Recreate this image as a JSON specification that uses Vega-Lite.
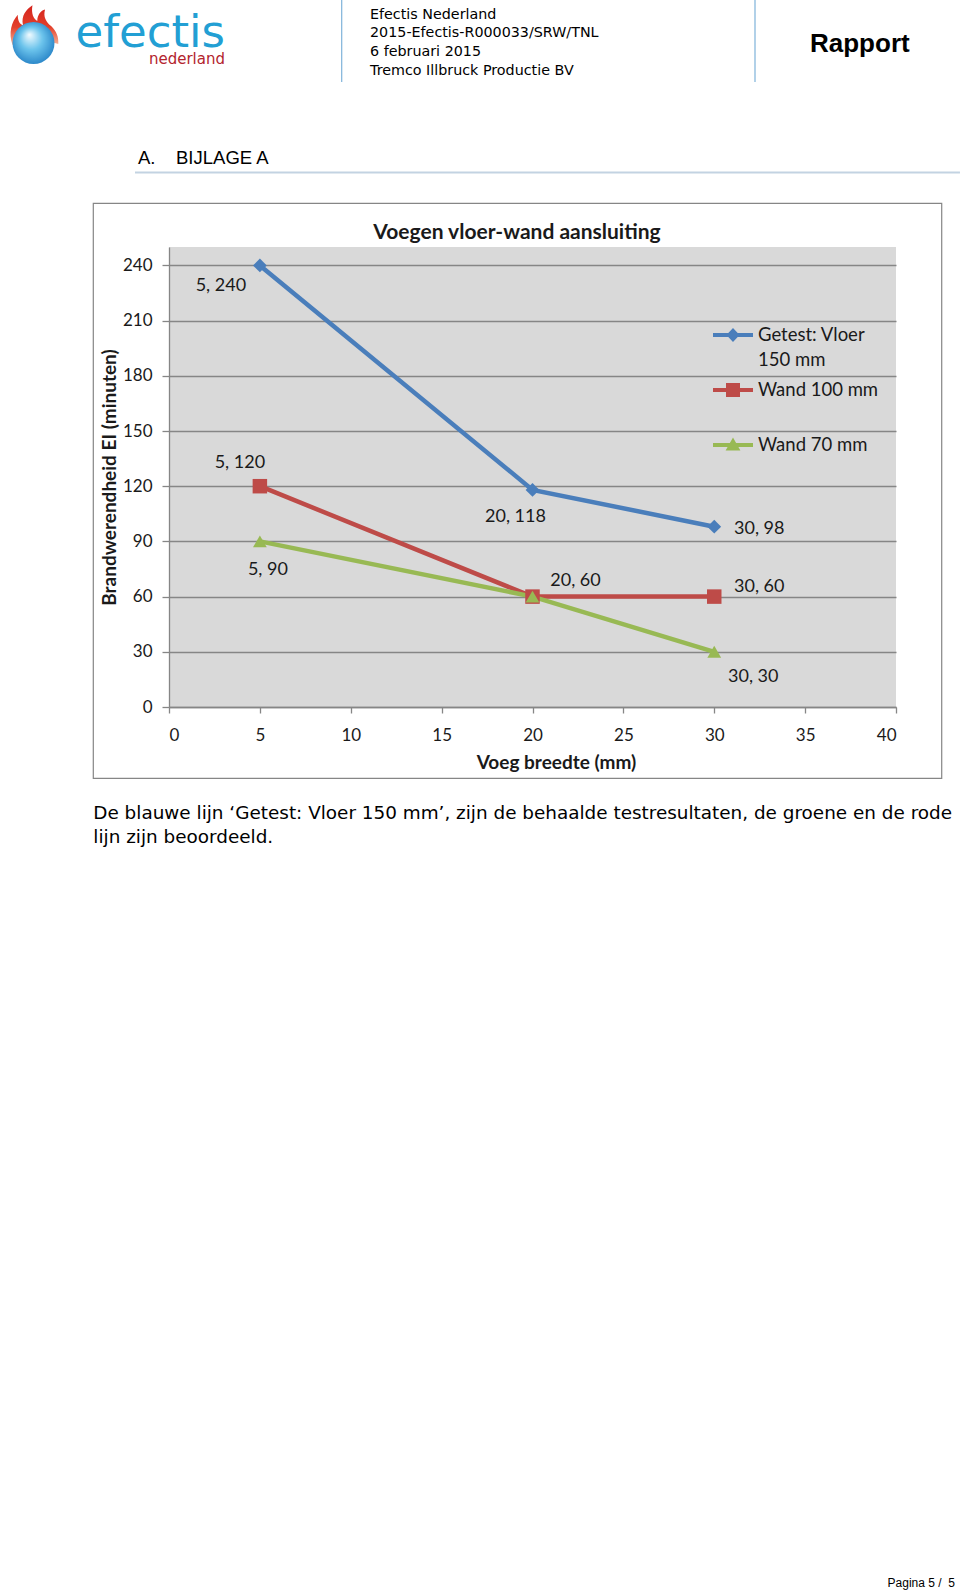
{
  "$schema": "https://vega.github.io/schema/vega-lite/v6.json",
  "width": 727,
  "height": 460,
  "autosize": {"type": "none"},
  "padding": {"left": 169, "top": 247, "right": 64, "bottom": 885},
  "background": "white",
  "config": {
    "view": {"fill": "#d9d9d9", "stroke": null},
    "axis": {
      "domainColor": "#868686", "tickColor": "#868686", "gridColor": "#868686",
      "domainWidth": 1.3, "tickWidth": 1.3, "gridWidth": 1.3,
      "labelFont": "Lato", "labelFontSize": 17, "labelColor": "#1a1a1a",
      "titleFont": "Lato", "titleFontSize": 19, "titleFontWeight": "bold", "titleColor": "#1a1a1a"
    },
    "text": {"font": "Lato"}
  },
  "data": {
    "values": [
      {"reeks": "Getest: Vloer 150 mm", "breedte": 5, "ei": 240, "label": "5, 240"},
      {"reeks": "Getest: Vloer 150 mm", "breedte": 20, "ei": 118, "label": "20, 118"},
      {"reeks": "Getest: Vloer 150 mm", "breedte": 30, "ei": 98, "label": "30, 98"},
      {"reeks": "Wand 100 mm", "breedte": 5, "ei": 120, "label": "5, 120"},
      {"reeks": "Wand 100 mm", "breedte": 20, "ei": 60, "label": "20, 60"},
      {"reeks": "Wand 100 mm", "breedte": 30, "ei": 60, "label": "30, 60"},
      {"reeks": "Wand 70 mm", "breedte": 5, "ei": 90, "label": "5, 90"},
      {"reeks": "Wand 70 mm", "breedte": 20, "ei": 60, "label": "20, 60"},
      {"reeks": "Wand 70 mm", "breedte": 30, "ei": 30, "label": "30, 30"}
    ]
  },
  "layer": [
    {
      "mark": {"type": "line", "strokeWidth": 4.5},
      "encoding": {
        "x": {"field": "breedte", "type": "quantitative",
          "scale": {"domain": [0, 40], "nice": false, "zero": false},
          "axis": {"values": [0, 5, 10, 15, 20, 25, 30, 35, 40], "grid": false, "tickSize": 6,
            "labelBaseline": "middle", "labelPadding": 22,
            "title": "Voeg breedte (mm)", "titleX": 387, "titleY": 55, "titleBaseline": "middle", "titleAlign": "center", "titleAnchor": null}},
        "y": {"field": "ei", "type": "quantitative",
          "scale": {"domain": [0, 250], "nice": false, "zero": false},
          "axis": {"values": [0, 30, 60, 90, 120, 150, 180, 210, 240], "grid": true, "tickSize": 7, "labelPadding": 10,
            "title": "Brandwerendheid EI (minuten)", "titleX": -60, "titleY": 230, "titleBaseline": "middle", "titleAlign": "center", "titleAnchor": null}},
        "color": {"field": "reeks", "type": "nominal",
          "scale": {"domain": ["Getest: Vloer 150 mm", "Wand 100 mm", "Wand 70 mm"], "range": ["#4a7ebb", "#be4b48", "#98b954"]},
          "legend": {
            "orient": "none", "legendX": 544, "legendY": 68, "title": null, "padding": 0,
            "symbolSize": 1600, "labelFont": "Lato", "labelFontSize": 18.5, "labelColor": "#1a1a1a",
            "labelOffset": 5, "labelLimit": 300, "rowPadding": -11.5, "labelBaseline": "middle",
            "labelExpr": "datum.label == 'Getest: Vloer 150 mm' ? ['Getest: Vloer', '150 mm'] : [datum.label, '']",
            "encode": {
              "symbols": {"update": {
                "shape": {"signal": "datum.value == 'Getest: Vloer 150 mm' ? 'M-1,-0.1L1,-0.1L1,0.1L-1,0.1Z M0,-0.35L0.33,0L0,0.35L-0.33,0Z' : datum.value == 'Wand 100 mm' ? 'M-1,-0.1L1,-0.1L1,0.1L-1,0.1Z M-0.35,-0.35L0.35,-0.35L0.35,0.35L-0.35,0.35Z' : 'M-1,-0.1L1,-0.1L1,0.1L-1,0.1Z M0,-0.38L0.37,0.28L-0.37,0.28Z'"},
                "size": {"value": 1600},
                "fill": {"scale": "color", "field": "value"},
                "stroke": {"value": "transparent"},
                "strokeWidth": {"value": 0},
                "opacity": {"value": 1}
              }},
              "labels": {"update": {"lineHeight": {"value": 25}}}
            }
          }}
      }
    },
    {
      "transform": [{"filter": {"field": "reeks", "equal": "Getest: Vloer 150 mm"}}],
      "mark": {"type": "point", "filled": true, "opacity": 1, "strokeWidth": 0, "shape": "diamond", "size": 190},
      "encoding": {
        "x": {"field": "breedte", "type": "quantitative"},
        "y": {"field": "ei", "type": "quantitative"},
        "color": {"field": "reeks", "type": "nominal"}
      }
    },
    {
      "transform": [{"filter": {"field": "reeks", "equal": "Wand 100 mm"}}],
      "mark": {"type": "point", "filled": true, "opacity": 1, "strokeWidth": 0, "shape": "square", "size": 210},
      "encoding": {
        "x": {"field": "breedte", "type": "quantitative"},
        "y": {"field": "ei", "type": "quantitative"},
        "color": {"field": "reeks", "type": "nominal"}
      }
    },
    {
      "transform": [{"filter": {"field": "reeks", "equal": "Wand 70 mm"}}],
      "mark": {"type": "point", "filled": true, "opacity": 1, "strokeWidth": 0, "shape": "triangle-up", "size": 190},
      "encoding": {
        "x": {"field": "breedte", "type": "quantitative"},
        "y": {"field": "ei", "type": "quantitative"},
        "color": {"field": "reeks", "type": "nominal"}
      }
    },
    {"transform": [{"filter": {"and": [{"field": "reeks", "equal": "Getest: Vloer 150 mm"}, {"field": "breedte", "equal": 5}]}}],
     "mark": {"type": "text", "fontSize": 18, "color": "#1a1a1a", "dx": -39, "dy": 21},
     "encoding": {"x": {"field": "breedte", "type": "quantitative"}, "y": {"field": "ei", "type": "quantitative"}, "text": {"field": "label"}}},
    {"transform": [{"filter": {"and": [{"field": "reeks", "equal": "Getest: Vloer 150 mm"}, {"field": "breedte", "equal": 20}]}}],
     "mark": {"type": "text", "fontSize": 18, "color": "#1a1a1a", "dx": -17, "dy": 27},
     "encoding": {"x": {"field": "breedte", "type": "quantitative"}, "y": {"field": "ei", "type": "quantitative"}, "text": {"field": "label"}}},
    {"transform": [{"filter": {"and": [{"field": "reeks", "equal": "Getest: Vloer 150 mm"}, {"field": "breedte", "equal": 30}]}}],
     "mark": {"type": "text", "fontSize": 18, "color": "#1a1a1a", "dx": 45, "dy": 2},
     "encoding": {"x": {"field": "breedte", "type": "quantitative"}, "y": {"field": "ei", "type": "quantitative"}, "text": {"field": "label"}}},
    {"transform": [{"filter": {"and": [{"field": "reeks", "equal": "Wand 100 mm"}, {"field": "breedte", "equal": 5}]}}],
     "mark": {"type": "text", "fontSize": 18, "color": "#1a1a1a", "dx": -20, "dy": -23},
     "encoding": {"x": {"field": "breedte", "type": "quantitative"}, "y": {"field": "ei", "type": "quantitative"}, "text": {"field": "label"}}},
    {"transform": [{"filter": {"and": [{"field": "reeks", "equal": "Wand 100 mm"}, {"field": "breedte", "equal": 20}]}}],
     "mark": {"type": "text", "fontSize": 18, "color": "#1a1a1a", "dx": 43, "dy": -16},
     "encoding": {"x": {"field": "breedte", "type": "quantitative"}, "y": {"field": "ei", "type": "quantitative"}, "text": {"field": "label"}}},
    {"transform": [{"filter": {"and": [{"field": "reeks", "equal": "Wand 100 mm"}, {"field": "breedte", "equal": 30}]}}],
     "mark": {"type": "text", "fontSize": 18, "color": "#1a1a1a", "dx": 45, "dy": -10},
     "encoding": {"x": {"field": "breedte", "type": "quantitative"}, "y": {"field": "ei", "type": "quantitative"}, "text": {"field": "label"}}},
    {"transform": [{"filter": {"and": [{"field": "reeks", "equal": "Wand 70 mm"}, {"field": "breedte", "equal": 5}]}}],
     "mark": {"type": "text", "fontSize": 18, "color": "#1a1a1a", "dx": 8, "dy": 29},
     "encoding": {"x": {"field": "breedte", "type": "quantitative"}, "y": {"field": "ei", "type": "quantitative"}, "text": {"field": "label"}}},
    {"transform": [{"filter": {"and": [{"field": "reeks", "equal": "Wand 70 mm"}, {"field": "breedte", "equal": 30}]}}],
     "mark": {"type": "text", "fontSize": 18, "color": "#1a1a1a", "dx": 39, "dy": 25},
     "encoding": {"x": {"field": "breedte", "type": "quantitative"}, "y": {"field": "ei", "type": "quantitative"}, "text": {"field": "label"}}},

    {"data": {"values": [{}]},
     "mark": {"type": "text", "font": "Lato", "fontSize": 21, "fontWeight": "bold", "color": "#1a1a1a", "align": "center", "baseline": "alphabetic"},
     "encoding": {"x": {"datum": 19.147, "type": "quantitative"}, "y": {"datum": 254.2, "type": "quantitative"}, "text": {"value": "Voegen vloer-wand aansluiting"}}},
    {"data": {"values": [{}]},
     "mark": {"type": "rect", "filled": false, "stroke": "#868686", "strokeWidth": 1.2},
     "encoding": {"x": {"datum": -4.165, "type": "quantitative"}, "x2": {"datum": 42.515}, "y": {"datum": 273.75, "type": "quantitative"}, "y2": {"datum": -38.75}}},
    {"data": {"values": [{}]},
     "mark": {"type": "rule", "stroke": "#7fb3da", "strokeWidth": 1.2},
     "encoding": {"x": {"datum": 9.502, "type": "quantitative"}, "y": {"datum": 384.24, "type": "quantitative"}, "y2": {"datum": 339.67}}},
    {"data": {"values": [{}]},
     "mark": {"type": "rule", "stroke": "#7fb3da", "strokeWidth": 1.2},
     "encoding": {"x": {"datum": 32.242, "type": "quantitative"}, "y": {"datum": 384.24, "type": "quantitative"}, "y2": {"datum": 339.67}}},
    {"data": {"values": [{}]},
     "mark": {"type": "rule", "stroke": "#c3d3e2", "strokeWidth": 2},
     "encoding": {"x": {"datum": -1.871, "type": "quantitative"}, "x2": {"datum": 43.52}, "y": {"datum": 290.49, "type": "quantitative"}}},
    {"data": {"values": [{}]},
     "mark": {"type": "point", "filled": true, "opacity": 1, "strokeWidth": 0, "size": 1764,
       "shape": "M-1.0,0.1 C-1.2,-0.5 -1.05,-1.0 -0.75,-1.35 C-0.75,-1.05 -0.65,-0.9 -0.5,-0.85 C-0.6,-1.3 -0.35,-1.6 -0.05,-1.8 C-0.12,-1.4 0.0,-1.15 0.18,-1.05 C0.18,-1.35 0.35,-1.55 0.55,-1.6 C0.45,-1.25 0.6,-1.0 0.85,-0.8 C1.1,-0.55 1.2,-0.3 1.18,0.05 L0.3,-0.2 L-0.2,-0.2 Z",
       "fill": {"gradient": "linear", "x1": 0, "y1": 0, "x2": 0, "y2": 1, "stops": [{"offset": 0, "color": "#d5231d"}, {"offset": 0.55, "color": "#e3402b"}, {"offset": 1, "color": "#f5b59a"}]}},
     "encoding": {"x": {"datum": -7.455, "type": "quantitative"}, "y": {"datum": 360.87, "type": "quantitative"}}},
    {"data": {"values": [{}]},
     "mark": {"type": "point", "filled": true, "opacity": 1, "strokeWidth": 0, "size": 1764, "shape": "circle",
       "fill": {"gradient": "radial", "x1": 0.4, "y1": 0.3, "r1": 0, "x2": 0.5, "y2": 0.5, "r2": 0.6, "stops": [{"offset": 0, "color": "#f2fbff"}, {"offset": 0.45, "color": "#6cc4ec"}, {"offset": 1, "color": "#1b78c0"}]}},
     "encoding": {"x": {"datum": -7.455, "type": "quantitative"}, "y": {"datum": 360.87, "type": "quantitative"}}},
    {"data": {"values": [{}]},
     "mark": {"type": "text", "font": "DejaVu Sans", "fontSize": 45, "color": "#229fd4", "align": "right", "baseline": "alphabetic"},
     "encoding": {"x": {"datum": 3.081, "type": "quantitative"}, "y": {"datum": 358.7, "type": "quantitative"}, "text": {"value": "efectis"}}},
    {"data": {"values": [{}]},
     "mark": {"type": "text", "font": "DejaVu Sans", "fontSize": 15, "color": "#b3242d", "align": "right", "baseline": "alphabetic"},
     "encoding": {"x": {"datum": 3.081, "type": "quantitative"}, "y": {"datum": 349.2, "type": "quantitative"}, "text": {"value": "nederland"}}},
    {"data": {"values": [{}]},
     "mark": {"type": "text", "font": "DejaVu Sans", "fontSize": 14.3, "color": "#000000", "align": "left", "baseline": "alphabetic", "lineHeight": 18.7},
     "encoding": {"x": {"datum": 11.059, "type": "quantitative"}, "y": {"datum": 374.18, "type": "quantitative"},
       "text": {"value": ["Efectis Nederland", "2015-Efectis-R000033/SRW/TNL", "6 februari 2015", "Tremco Illbruck Productie BV"]}}},
    {"data": {"values": [{}]},
     "mark": {"type": "text", "font": "Liberation Sans", "fontSize": 26, "fontWeight": "bold", "color": "#000000", "align": "left", "baseline": "alphabetic"},
     "encoding": {"x": {"datum": 35.268, "type": "quantitative"}, "y": {"datum": 356.25, "type": "quantitative"}, "text": {"value": "Rapport"}}},
    {"data": {"values": [{}]},
     "mark": {"type": "text", "font": "Liberation Sans", "fontSize": 18.5, "color": "#000000", "align": "left", "baseline": "alphabetic"},
     "encoding": {"x": {"datum": -1.706, "type": "quantitative"}, "y": {"datum": 295.38, "type": "quantitative"}, "text": {"value": "A.\u00a0\u00a0\u00a0\u00a0BIJLAGE A"}}},
    {"data": {"values": [{}]},
     "mark": {"type": "text", "font": "DejaVu Sans", "fontSize": 18.4, "color": "#000000", "align": "left", "baseline": "alphabetic", "lineHeight": 24},
     "encoding": {"x": {"datum": -4.165, "type": "quantitative"}, "y": {"datum": -61.03, "type": "quantitative"},
       "text": {"value": ["De blauwe lijn ‘Getest: Vloer 150 mm’, zijn de behaalde testresultaten, de groene en de rode", "lijn zijn beoordeeld."]}}},
    {"data": {"values": [{}]},
     "mark": {"type": "text", "font": "Liberation Sans", "fontSize": 12, "color": "#000000", "align": "right", "baseline": "alphabetic"},
     "encoding": {"x": {"datum": 43.246, "type": "quantitative"}, "y": {"datum": -478.26, "type": "quantitative"}, "text": {"value": "Pagina 5 /\u00a0 5"}}}
  ]
}
